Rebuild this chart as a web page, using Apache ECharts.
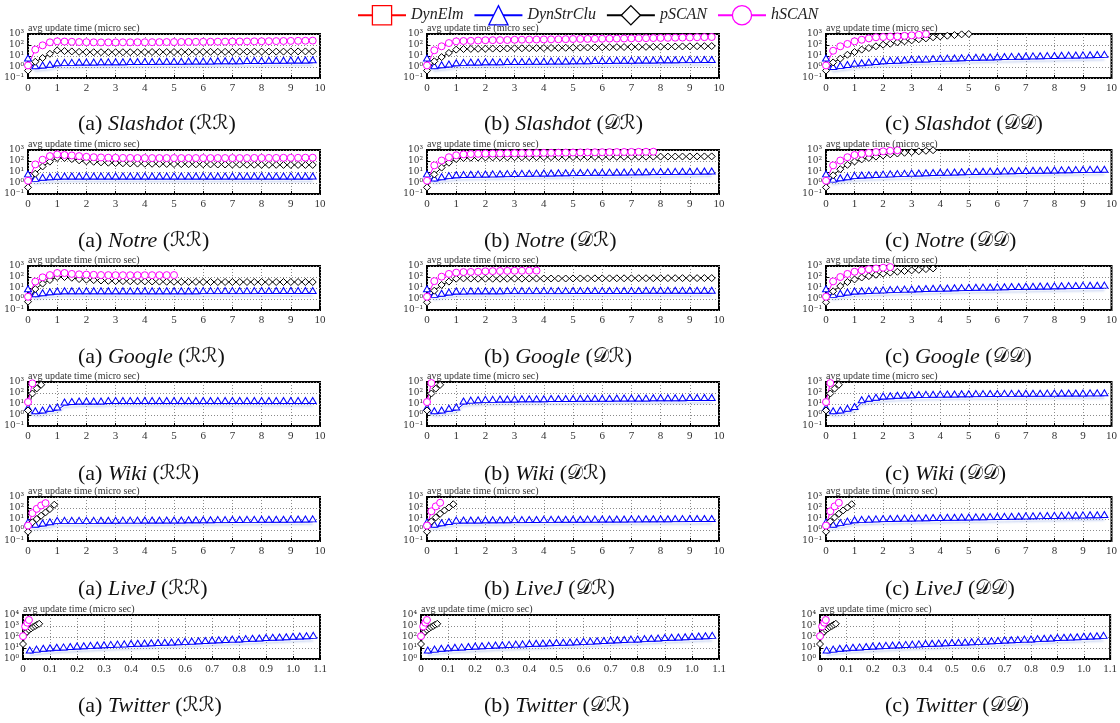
<!DOCTYPE html>
<html>
<head>
<meta charset="utf-8">
<script src="https://cdn.jsdelivr.net/npm/echarts@6/dist/echarts.min.js"></script>
<style>
  html, body { margin: 0; padding: 0; background: #fff; }
  #chart { width: 1120px; height: 723px; }
</style>
</head>
<body>
<div id="chart"></div>
<script>
const seriesNames = ["DynElm", "DynStrClu", "pSCAN", "hSCAN"];
const setNames = ["Slashdot", "Notre", "Google", "Wiki", "LiveJ", "Twitter"];
const panelTags = ["(a)", "(b)", "(c)"];
const modeTags = ["\u211B\u211B", "\uD835\uDC9F\u211B", "\uD835\uDC9F\uD835\uDC9F"];
// superscript exponents for the decade labels
const expLabels = { "-1": "\u207B\u00B9", "0": "\u2070", "1": "\u00B9", "2": "\u00B2", "3": "\u00B3", "4": "\u2074" };

// x positions of the samples
const xQuarter = [0, 0.25, 0.5, 0.75, 1, 1.25, 1.5, 1.75, 2, 2.25, 2.5, 2.75, 3, 3.25, 3.5, 3.75, 4, 4.25, 4.5, 4.75,
  5, 5.25, 5.5, 5.75, 6, 6.25, 6.5, 6.75, 7, 7.25, 7.5, 7.75, 8, 8.25, 8.5, 8.75, 9, 9.25, 9.5, 9.75];
const xShort = [0, 0.15, 0.3, 0.45, 0.6, 0.75, 0.9];
const xTwitter = [0.025, 0.05, 0.075, 0.1, 0.125, 0.15, 0.175, 0.2, 0.225, 0.25, 0.275, 0.3, 0.325, 0.35, 0.375, 0.4,
  0.425, 0.45, 0.475, 0.5, 0.525, 0.55, 0.575, 0.6, 0.625, 0.65, 0.675, 0.7, 0.725, 0.75, 0.775, 0.8, 0.825, 0.85,
  0.875, 0.9, 0.925, 0.95, 0.975, 1.0, 1.025, 1.05, 1.075];
const xTwitterP = [0, 0.008, 0.015, 0.022, 0.03, 0.037, 0.045, 0.052, 0.06];
const xTwitterH = [0, 0.008, 0.016, 0.022];

// Slashdot
const sdRR_str = [3.5, 0.7, 0.8, 0.95, 1.3, 1.4, 1.4, 1.5, 1.5, 1.5, 1.6, 1.6, 1.6, 1.6, 1.7, 1.7, 1.7, 1.7, 1.8, 1.8,
  1.8, 1.8, 1.9, 1.9, 1.9, 1.9, 2.0, 2.0, 2.0, 2.0, 2.1, 2.1, 2.1, 2.2, 2.2, 2.2, 2.3, 2.3, 2.3, 2.4];
const sdRR_p = [0.47, 3, 6.6, 16, 32, 28, 26, 24, 23, 22, 22, 22, 22, 22, 22, 22, 23, 23, 23, 23,
  23, 23, 23, 24, 24, 24, 24, 24, 24, 25, 25, 25, 25, 25, 25, 25, 26, 26, 26, 26];
const sdRR_h = [1.4, 38, 93, 175, 215, 205, 195, 185, 180, 175, 172, 172, 172, 175, 175, 178, 178, 180, 182, 185,
  185, 188, 190, 192, 195, 198, 200, 202, 205, 208, 210, 214, 218, 222, 226, 230, 235, 240, 245, 250];
const sdDR_str = [3.5, 0.7, 0.85, 1.0, 1.3, 1.4, 1.5, 1.5, 1.6, 1.6, 1.6, 1.7, 1.7, 1.7, 1.8, 1.8, 1.8, 1.9, 1.9, 1.9,
  2.0, 2.0, 2.0, 2.1, 2.1, 2.1, 2.2, 2.2, 2.2, 2.3, 2.3, 2.3, 2.4, 2.4, 2.4, 2.5, 2.5, 2.5, 2.6, 2.6];
const sdDR_p = [0.47, 3.3, 8, 19, 38, 43, 44, 45, 46, 47, 47, 48, 50, 50, 51, 52, 53, 54, 55, 56,
  57, 58, 59, 60, 62, 63, 64, 65, 66, 67, 68, 69, 70, 72, 73, 74, 75, 77, 78, 80];
const sdDR_h = [1.4, 33, 76, 150, 215, 230, 240, 255, 270, 275, 280, 285, 300, 305, 310, 315, 320, 325, 330, 340,
  350, 355, 360, 365, 370, 380, 385, 390, 400, 410, 420, 430, 440, 450, 460, 470, 480, 500, 515, 530];
const sdDD_str = [3.5, 0.6, 0.75, 0.9, 1.2, 1.3, 1.5, 1.7, 2.0, 2.1, 2.2, 2.4, 2.7, 2.8, 2.9, 3.1, 3.3, 3.4, 3.5, 3.7,
  4.0, 4.1, 4.3, 4.4, 4.6, 4.8, 4.9, 5.1, 5.3, 5.5, 5.6, 5.8, 6.0, 6.2, 6.4, 6.6, 6.8, 7.0, 7.2, 7.5];
const sdDD_p = [0.47, 2.6, 5.7, 13, 23, 38, 53, 76, 107, 130, 175, 215, 265, 330, 400, 500, 600, 700, 800, 930, 1000];
const sdDD_h = [1.4, 30, 76, 125, 215, 300, 400, 500, 530, 570, 600, 680, 750, 850, 1000];

// Notre
const ntRR_str = [3.6, 1.4, 1.8, 2.0, 2.2, 2.3, 2.3, 2.3, 2.3, 2.3, 2.3, 2.3, 2.3, 2.3, 2.3, 2.3, 2.3, 2.3, 2.3, 2.3,
  2.3, 2.3, 2.3, 2.3, 2.3, 2.3, 2.3, 2.3, 2.3, 2.3, 2.3, 2.3, 2.3, 2.3, 2.3, 2.3, 2.3, 2.3, 2.3, 2.3];
const ntRR_p = [0.4, 7, 32, 87, 190, 190, 150, 115, 93, 85, 75, 70, 65, 62, 60, 58, 57, 56, 55, 54,
  53, 52, 51, 50, 50, 49, 48, 48, 47, 47, 46, 46, 45, 45, 45, 44, 44, 44, 44, 44];
const ntRR_h = [1.6, 49, 130, 280, 400, 350, 320, 280, 240, 220, 210, 200, 195, 190, 190, 185, 185, 185, 185, 185,
  185, 185, 185, 185, 185, 185, 185, 185, 185, 185, 185, 190, 190, 190, 190, 195, 195, 195, 200, 200];
const ntDR_str = [3.6, 1.5, 2.0, 2.5, 3.0, 3.2, 3.3, 3.4, 3.5, 3.6, 3.7, 3.8, 3.9, 4.0, 4.1, 4.2, 4.3, 4.4, 4.5, 4.6,
  4.7, 4.8, 4.9, 5.0, 5.1, 5.2, 5.3, 5.4, 5.5, 5.6, 5.7, 5.8, 5.9, 6.0, 6.1, 6.2, 6.3, 6.4, 6.5, 6.6];
const ntDR_p = [0.4, 6, 25, 70, 150, 190, 200, 205, 210, 212, 215, 215, 218, 220, 220, 222, 225, 225, 228, 230,
  230, 232, 235, 235, 238, 240, 240, 242, 245, 245, 248, 250, 250, 252, 255, 255, 258, 260, 260, 262];
const ntDR_h = [1.6, 40, 110, 220, 330, 400, 430, 450, 470, 480, 490, 500, 510, 520, 530, 540, 550, 560, 570, 580,
  590, 600, 610, 620, 630, 640, 650, 660, 670, 680, 690, 700];
const ntDD_str = [3.6, 1.2, 1.6, 2.0, 2.5, 2.8, 3.0, 3.2, 3.4, 3.6, 3.8, 4.0, 4.2, 4.4, 4.6, 4.8, 5.0, 5.2, 5.4, 5.6,
  5.8, 6.0, 6.2, 6.4, 6.6, 6.8, 7.0, 7.2, 7.4, 7.6, 7.8, 8.0, 8.2, 8.4, 8.6, 8.8, 9.0, 9.2, 9.4, 9.6];
const ntDD_p = [0.4, 5, 18, 45, 90, 140, 190, 250, 320, 400, 480, 560, 650, 750, 850, 950];
const ntDD_h = [1.6, 40, 110, 220, 350, 450, 550, 650, 750, 850, 950];

// Google
const gaRR_str = [4.6, 1.6, 2.0, 2.4, 2.8, 3.0, 3.0, 3.0, 3.0, 3.0, 3.0, 3.0, 3.0, 3.0, 3.0, 3.0, 3.0, 3.0, 3.0, 3.0,
  3.0, 3.0, 3.0, 3.0, 3.1, 3.1, 3.1, 3.1, 3.1, 3.1, 3.1, 3.1, 3.2, 3.2, 3.2, 3.2, 3.2, 3.2, 3.2, 3.2];
const gaRR_p = [0.57, 8, 25, 53, 100, 100, 85, 65, 57, 52, 48, 45, 43, 42, 41, 40, 40, 39, 38, 37,
  37, 36, 36, 36, 35, 35, 35, 35, 35, 35, 35, 35, 35, 35, 35, 35, 35, 35, 35, 35];
const gaRR_h = [1.6, 38, 93, 150, 230, 230, 190, 175, 165, 158, 150, 148, 146, 145, 145, 145, 145, 146, 147, 148, 150];
const gaDR_str = [4.6, 1.4, 1.8, 2.3, 2.8, 2.9, 3.0, 3.0, 3.0, 3.0, 3.0, 3.1, 3.1, 3.1, 3.1, 3.1, 3.1, 3.1, 3.1, 3.1,
  3.2, 3.2, 3.2, 3.2, 3.2, 3.2, 3.2, 3.2, 3.2, 3.2, 3.3, 3.3, 3.3, 3.3, 3.3, 3.3, 3.3, 3.3, 3.3, 3.3];
const gaDR_p = [0.5, 5.7, 19, 38, 70, 75, 72, 70, 70, 70, 70, 70, 71, 71, 72, 72, 72, 73, 73, 73,
  74, 74, 74, 75, 75, 75, 76, 76, 76, 77, 77, 77, 78, 78, 78, 79, 79, 79, 80, 80];
const gaDR_h = [1.6, 42, 107, 190, 250, 280, 290, 300, 330, 340, 350, 360, 370, 370, 375, 380];
const gaDD_str = [4.6, 1.4, 1.8, 2.3, 2.8, 3.0, 3.2, 3.4, 3.6, 3.8, 4.0, 4.2, 4.4, 4.6, 4.8, 5.0, 5.2, 5.4, 5.6, 5.8,
  6.0, 6.2, 6.4, 6.6, 6.8, 7.0, 7.2, 7.4, 7.6, 7.8, 8.0, 8.2, 8.4, 8.6, 8.8, 9.0, 9.2, 9.4, 9.6, 9.8];
const gaDD_p = [0.5, 5, 15, 35, 60, 90, 120, 160, 200, 250, 300, 350, 400, 450, 520, 600];
const gaDD_h = [1.6, 40, 100, 190, 300, 400, 500, 600, 700, 800];

// Wiki
const wkRR_str = [2.5, 1.3, 1.5, 2.2, 2.8, 8, 9, 10, 10, 10, 10, 11, 11, 11, 11, 11, 11, 11, 11, 11,
  11, 11, 11, 11, 11, 11, 11, 11, 11, 11, 11, 11, 11, 11, 11, 11, 11, 11, 11, 11];
const wkRR_p = [2.6, 90, 260, 560];
const wkRR_h = [15, 750];
const wkDR_str = [2.5, 1.3, 1.5, 2.2, 2.8, 10, 12, 13, 14, 14, 15, 15, 15, 16, 16, 16, 16, 17, 17, 17,
  17, 18, 18, 18, 18, 18, 19, 19, 19, 19, 19, 20, 20, 20, 20, 20, 21, 21, 21, 21];
const wkDR_p = [2.6, 90, 250, 550];
const wkDR_h = [15, 800];
const wkDD_str = [2.5, 1.3, 1.5, 2.2, 3.2, 13, 18, 22, 28, 30, 33, 35, 37, 39, 40, 41, 42, 43, 44, 45,
  46, 47, 47, 48, 48, 49, 49, 50, 50, 51, 51, 52, 52, 53, 53, 54, 54, 55, 55, 56];
const wkDD_p = [2.6, 90, 250, 560];
const wkDD_h = [15, 800];

// LiveJ
const ljRR_str = [2.9, 1.8, 2.3, 3.0, 4.0, 4.0, 4.0, 4.0, 4.0, 4.0, 4.1, 4.1, 4.1, 4.2, 4.2, 4.2, 4.3, 4.3, 4.3, 4.4,
  4.4, 4.4, 4.5, 4.5, 4.6, 4.6, 4.7, 4.7, 4.8, 4.8, 4.9, 4.9, 5.0, 5.0, 5.1, 5.1, 5.2, 5.3, 5.4, 5.5];
const ljRR_p = [0.7, 5, 10, 20, 40, 80, 200];
const ljRR_h = [2.5, 34, 84, 170, 275];
const ljDR_str = [2.9, 1.8, 2.4, 3.2, 4.2, 4.3, 4.4, 4.4, 4.5, 4.5, 4.6, 4.6, 4.7, 4.7, 4.8, 4.8, 4.9, 4.9, 5.0, 5.0,
  5.1, 5.1, 5.2, 5.2, 5.3, 5.3, 5.4, 5.4, 5.5, 5.5, 5.6, 5.6, 5.7, 5.7, 5.8, 5.8, 5.9, 5.9, 6.0, 6.0];
const ljDR_p = [0.7, 6, 14, 30, 60, 110, 220];
const ljDR_h = [2.5, 50, 140, 300];
const ljDD_str = [2.9, 1.8, 2.5, 3.4, 4.6, 4.9, 5.2, 5.5, 5.8, 6.0, 6.2, 6.4, 6.6, 6.8, 7.0, 7.2, 7.4, 7.6, 7.8, 8.0,
  8.2, 8.4, 8.6, 8.8, 9.0, 9.3, 9.6, 9.9, 10.2, 10.5, 10.8, 11.1, 11.4, 11.7, 12.0, 12.3, 12.6, 12.9, 13.2, 13.5];
const ljDD_p = [0.7, 6, 14, 30, 60, 110, 220];
const ljDD_h = [2.5, 50, 140, 300];

// Twitter
const twStr = [3.5, 4.2, 5.0, 5.6, 6.2, 6.7, 7.3, 8.0, 8.6, 9.3, 10, 10.7, 11.3, 12, 12.6, 13.5, 14.3, 15, 16, 17,
  18, 19, 20, 21.4, 22.6, 24, 26, 28, 30, 32, 34, 35.5, 38, 41, 44, 48, 51, 54, 57, 63, 66, 70, 75];
const twP = [23, 200, 300, 450, 600, 800, 1000, 1300, 1600];
const twH = [120, 900, 2000, 3500];

const specs = [
  { set: 0, row: 0, col: 0, str: [xQuarter, sdRR_str], p: [xQuarter, sdRR_p], h: [xQuarter, sdRR_h] },
  { set: 0, row: 0, col: 1, str: [xQuarter, sdDR_str], p: [xQuarter, sdDR_p], h: [xQuarter, sdDR_h] },
  { set: 0, row: 0, col: 2, str: [xQuarter, sdDD_str], p: [xQuarter, sdDD_p], h: [xQuarter, sdDD_h] },
  { set: 1, row: 1, col: 0, str: [xQuarter, ntRR_str], p: [xQuarter, ntRR_p], h: [xQuarter, ntRR_h] },
  { set: 1, row: 1, col: 1, str: [xQuarter, ntDR_str], p: [xQuarter, ntDR_p], h: [xQuarter, ntDR_h] },
  { set: 1, row: 1, col: 2, str: [xQuarter, ntDD_str], p: [xQuarter, ntDD_p], h: [xQuarter, ntDD_h] },
  { set: 2, row: 2, col: 0, str: [xQuarter, gaRR_str], p: [xQuarter, gaRR_p], h: [xQuarter, gaRR_h] },
  { set: 2, row: 2, col: 1, str: [xQuarter, gaDR_str], p: [xQuarter, gaDR_p], h: [xQuarter, gaDR_h] },
  { set: 2, row: 2, col: 2, str: [xQuarter, gaDD_str], p: [xQuarter, gaDD_p], h: [xQuarter, gaDD_h] },
  { set: 3, row: 3, col: 0, str: [xQuarter, wkRR_str], p: [xShort, wkRR_p], h: [xShort, wkRR_h] },
  { set: 3, row: 3, col: 1, str: [xQuarter, wkDR_str], p: [xShort, wkDR_p], h: [xShort, wkDR_h] },
  { set: 3, row: 3, col: 2, str: [xQuarter, wkDD_str], p: [xShort, wkDD_p], h: [xShort, wkDD_h] },
  { set: 4, row: 4, col: 0, str: [xQuarter, ljRR_str], p: [xShort, ljRR_p], h: [xShort, ljRR_h] },
  { set: 4, row: 4, col: 1, str: [xQuarter, ljDR_str], p: [xShort, ljDR_p], h: [xShort, ljDR_h] },
  { set: 4, row: 4, col: 2, str: [xQuarter, ljDD_str], p: [xShort, ljDD_p], h: [xShort, ljDD_h] },
  { set: 5, row: 5, col: 0, str: [xTwitter, twStr], p: [xTwitterP, twP], h: [xTwitterH, twH] },
  { set: 5, row: 5, col: 1, str: [xTwitter, twStr], p: [xTwitterP, twP], h: [xTwitterH, twH] },
  { set: 5, row: 5, col: 2, str: [xTwitter, twStr], p: [xTwitterP, twP], h: [xTwitterH, twH] },
];

const serif = "'Liberation Serif', 'DejaVu Serif', serif";
const colLeft = [28, 427, 826];
const colRight = [320, 719, 1118];
const colLeftTw = [23, 421, 820];
const colRightTw = [320, 719, 1114];
const rowTop = [34, 150, 266, 382, 497, 615];
const plotH = 44;
const captionLeft = [78, 484, 885];
const captionY = [125, 242, 358, 475, 590, 707];

const pairs = (xs, ys) => ys.map((y, i) => [xs[i], y]);

const grids = [];
const xAxes = [];
const yAxes = [];
const titles = [];
const series = [
  {
    name: "DynElm",
    type: "line",
    xAxisIndex: 0,
    yAxisIndex: 0,
    data: [],
    symbol: "rect",
    lineStyle: { color: "#ff0000", width: 1 },
    itemStyle: { color: "#fff", borderColor: "#ff0000", borderWidth: 1.3 },
  },
];

const dotted = { color: "#8a8a8a", width: 1, type: [1, 2] };

specs.forEach((s, i) => {
  const tw = s.set === 5;
  const left = (tw ? colLeftTw : colLeft)[s.col];
  const right = (tw ? colRightTw : colRight)[s.col];
  const top = rowTop[s.row];

  grids.push({
    left: left,
    top: top,
    width: right - left,
    height: plotH,
    show: true,
    borderColor: "#000",
    borderWidth: 2,
  });

  xAxes.push({
    gridIndex: i,
    type: "value",
    min: 0,
    max: tw ? 1.1 : 10,
    interval: tw ? 0.1 : 1,
    axisLine: { show: false },
    axisTick: { show: true, inside: true, length: 3, lineStyle: { color: "#000" } },
    axisLabel: {
      fontFamily: serif,
      fontSize: 11,
      color: "#333",
      margin: 5,
      showMinLabel: true,
      showMaxLabel: true,
      formatter: (v) => (tw ? (v === 0 ? "0" : v.toFixed(1)) : String(Math.round(v))),
    },
    splitLine: { show: true, lineStyle: dotted },
  });

  yAxes.push({
    gridIndex: i,
    type: "log",
    logBase: 10,
    min: tw ? 1 : 0.1,
    max: tw ? 10000 : 1000,
    splitNumber: 4,
    axisLine: { show: false },
    axisTick: { show: true, inside: true, length: 3, lineStyle: { color: "#000" } },
    axisLabel: {
      margin: 4,
      color: "#333",
      fontFamily: "'DejaVu Serif', serif",
      fontSize: 9,
      lineHeight: 9,
      showMinLabel: true,
      showMaxLabel: true,
      formatter: (v) => "10" + expLabels[String(Math.round(Math.log10(v)))],
    },
    splitLine: { show: true, lineStyle: dotted },
  });

  titles.push({
    text: "avg update time (micro sec)",
    left: left,
    top: top - 11,
    padding: 0,
    textStyle: { fontFamily: serif, fontSize: 10, fontWeight: "normal", color: "#333" },
  });

  titles.push({
    text: "{n|" + panelTags[s.col] + " }{i|" + setNames[s.set] + "}{n| (}{s|" + modeTags[s.col] + "}{n|)}",
    left: captionLeft[s.col],
    top: captionY[s.row] - 12,
    padding: 0,
    textStyle: {
      fontWeight: "normal",
      rich: {
        n: { fontFamily: serif, fontSize: 22, fontWeight: "normal", color: "#111" },
        i: { fontFamily: serif, fontSize: 22, fontWeight: "normal", fontStyle: "italic", color: "#111" },
        s: { fontFamily: "'DejaVu Serif', 'DejaVu Sans', serif", fontSize: 20, fontWeight: "normal", color: "#111" },
      },
    },
  });

  const common = {
    type: "line",
    xAxisIndex: i,
    yAxisIndex: i,
    showAllSymbol: true,
    clip: false,
  };

  series.push(Object.assign({}, common, {
    name: "DynStrClu",
    data: pairs(s.str[0], s.str[1]),
    symbol: "triangle",
    symbolSize: [7, 6],
    symbolOffset: [0, -3],
    lineStyle: {
      color: "#0000ff",
      width: 1,
      shadowColor: "rgba(110, 140, 220, 0.55)",
      shadowBlur: 2,
      shadowOffsetY: 2.5,
    },
    itemStyle: { color: "#fff", borderColor: "#0000ff", borderWidth: 1 },
  }));
  series.push(Object.assign({}, common, {
    name: "pSCAN",
    data: pairs(s.p[0], s.p[1]),
    symbol: "diamond",
    symbolSize: [7, 7],
    lineStyle: { color: "#000000", width: 1 },
    itemStyle: { color: "#fff", borderColor: "#000000", borderWidth: 1 },
  }));
  series.push(Object.assign({}, common, {
    name: "hSCAN",
    data: pairs(s.h[0], s.h[1]),
    symbol: "circle",
    symbolSize: 7,
    lineStyle: { color: "#ff00ff", width: 1 },
    itemStyle: { color: "#fff", borderColor: "#ff00ff", borderWidth: 1 },
  }));
});

const chart = echarts.init(document.getElementById("chart"));
chart.setOption({
  animation: false,
  backgroundColor: "#fff",
  title: titles,
  legend: {
    top: 0,
    left: 352,
    itemWidth: 48,
    itemHeight: 24,
    itemGap: 10,
    data: seriesNames,
    itemStyle: { borderWidth: 1.3, shadowBlur: 0, shadowOffsetY: 0 },
    lineStyle: { shadowBlur: 0, shadowOffsetY: 0, shadowColor: "transparent" },
    textStyle: { fontFamily: serif, fontStyle: "italic", fontSize: 16, color: "#222" },
  },
  grid: grids,
  xAxis: xAxes,
  yAxis: yAxes,
  series: series,
});
</script>
</body>
</html>
